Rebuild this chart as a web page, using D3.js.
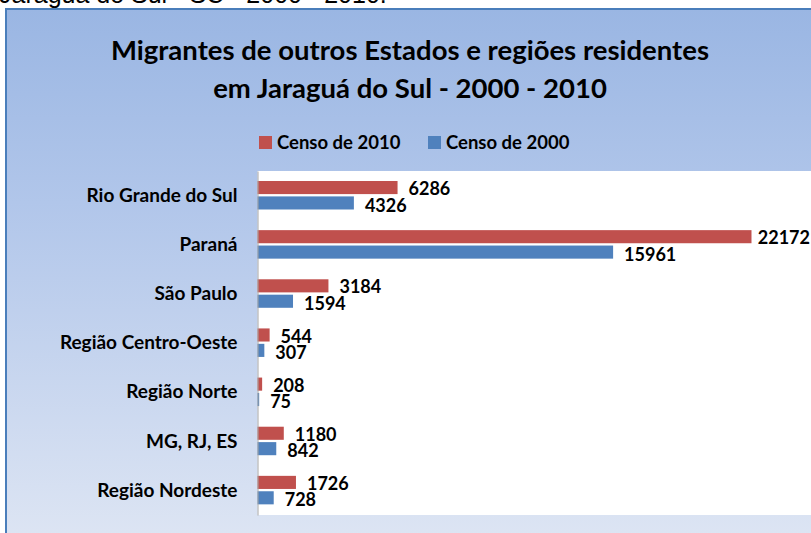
<!DOCTYPE html>
<html>
<head>
<meta charset="utf-8">
<script src="https://cdn.jsdelivr.net/npm/d3@7"></script>
<style>
  body { margin: 0; background: #fff; overflow: hidden; }
  svg { display: block; }
</style>
</head>
<body>
<div id="chart"></div>
<script>
// data
var categories = ["Rio Grande do Sul", "Paraná", "São Paulo", "Região Centro-Oeste", "Região Norte", "MG, RJ, ES", "Região Nordeste"];
var censo2010 = [6286, 22172, 3184, 544, 208, 1180, 1726];
var censo2000 = [4326, 15961, 1594, 307, 75, 842, 728];
var seriesNames = ["Censo de 2010", "Censo de 2000"];
var seriesColors = ["#c0504d", "#4f81bd"];
var titleLines = ["Migrantes de outros Estados e regiões residentes", "em Jaraguá do Sul - 2000 - 2010"];
var caption = "Jaraguá do Sul - SC - 2000 - 2010.";

var W = 811, H = 533;
var font = "Lato, 'Open Sans', sans-serif";

var svg = d3.select('#chart').append('svg')
  .attr("width", W)
  .attr("height", H);

var grad = svg.append("defs").append("linearGradient")
  .attr("id", "bg").attr("x1", 0).attr("y1", 0).attr("x2", 0).attr("y2", 1);
grad.append("stop").attr("offset", "0%").attr("stop-color", "#9ab6e3");
grad.append("stop").attr("offset", "35%").attr("stop-color", "#b1c6ea");
grad.append("stop").attr("offset", "100%").attr("stop-color", "#e0e7f4");

// cut-off caption line above the chart
svg.append("text")
  .attr("x", -1).attr("y", 3)
  .attr("font-family", "'Liberation Sans', Arial, sans-serif")
  .attr("font-size", "25px")
  .attr("fill", "#000")
  .text(caption);

// chart frame
svg.append("rect")
  .attr("x", 6).attr("y", 9)
  .attr("width", W + 20).attr("height", H + 20)
  .attr("fill", "url(#bg)")
  .attr("stroke", "#4a7ebb")
  .attr("stroke-width", 2);

// title
svg.append("g").selectAll("text")
  .data(titleLines)
  .enter().append("text")
  .attr("x", 410)
  .attr("y", function(d, i){ return 60 + i * 38; })
  .attr("text-anchor", "middle")
  .attr("font-family", font)
  .attr("font-weight", "bold")
  .attr("font-size", "27.5px")
  .attr("fill", "#000")
  .text(function(d){ return d; });

// plot area
var plot = { left: 257.5, top: 171, bottom: 515 };
var x = d3.scaleLinear().domain([0, 25000]).range([plot.left, plot.left + 557]);
var y = d3.scaleBand().domain(categories).range([plot.top, plot.bottom]);
var ySub = d3.scaleBand().domain(seriesNames).range([10, 38.5]).paddingInner(0.15);

svg.append("rect")
  .attr("x", plot.left).attr("y", plot.top)
  .attr("width", W - plot.left + 10).attr("height", plot.bottom - plot.top)
  .attr("fill", "#fff");

// legend
var legend = svg.append("g").selectAll("g")
  .data(seriesNames)
  .enter().append("g")
  .attr("transform", function(d, i){ return "translate(" + (259 + i * 169) + ",136)"; });
legend.append("rect")
  .attr("width", 13).attr("height", 13)
  .attr("fill", function(d, i){ return seriesColors[i]; });
legend.append("text")
  .attr("x", 18).attr("y", 12.5)
  .attr("font-family", font)
  .attr("font-weight", "bold")
  .attr("font-size", "18.5px")
  .attr("fill", "#000")
  .text(function(d){ return d; });

// rows: one group per category
var rows = categories.map(function(c, i){
  return { cat: c, vals: [censo2010[i], censo2000[i]] };
});

var groups = svg.selectAll('g.row')
  .data(rows)
  .enter()
  .append('g')
  .attr("class", "row")
  .attr("transform", function(d){ return "translate(0," + y(d.cat) + ")"; });

var bars = groups.selectAll("g.bar")
  .data(function(d){ return d.vals.map(function(v, j){ return { v: v, s: seriesNames[j], c: seriesColors[j] }; }); })
  .enter().append("g").attr("class", "bar");

bars.append("rect")
  .attr("x", x(0))
  .attr("y", function(d){ return ySub(d.s); })
  .attr("width", function(d){ return x(d.v) - x(0); })
  .attr("height", ySub.bandwidth())
  .attr("fill", function(d){ return d.c; });

bars.append("text")
  .attr("x", function(d){ return x(d.v) + 11; })
  .attr("y", function(d, j){ return ySub(d.s) + ySub.bandwidth() + 1 + j; })
  .attr("font-family", font)
  .attr("font-weight", "bold")
  .attr("font-size", "18px")
  .attr("fill", "#000")
  .text(function(d){ return d.v; })
  .each(function(){
    // keep the label inside the window, as in the original
    var w = this.getComputedTextLength();
    var lx = +d3.select(this).attr("x");
    if (lx + w > W - 1) d3.select(this).attr("x", W - 1 - w);
  });

// category axis
var yAxis = d3.axisLeft(y).tickSize(0).tickPadding(20);
var ax = svg.append("g")
  .attr("transform", "translate(" + plot.left + ",0)")
  .call(yAxis);
ax.select(".domain").attr("stroke", "#a6a6a6").attr("stroke-width", 1);
ax.selectAll("text")
  .attr("font-family", font)
  .attr("font-weight", "bold")
  .attr("font-size", "19px")
  .attr("fill", "#000")
  .attr("dy", "0.33em");
</script>
</body>
</html>
